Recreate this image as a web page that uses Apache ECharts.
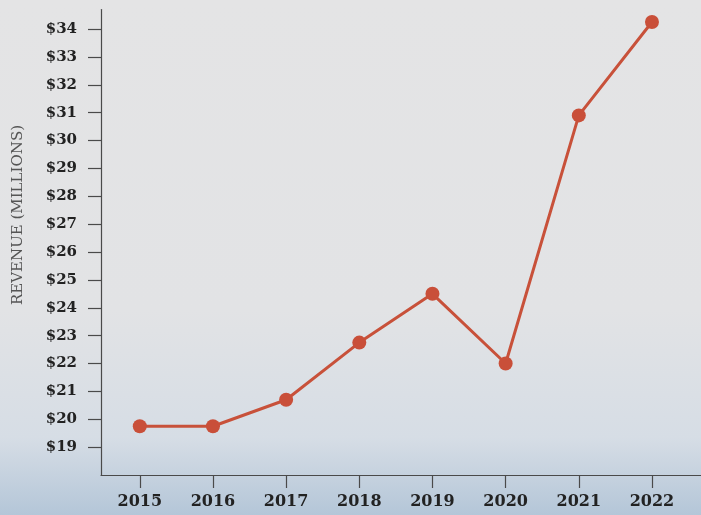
<!DOCTYPE html>
<html>
<head>
<meta charset="utf-8">
<script src="https://cdn.jsdelivr.net/npm/echarts@6/dist/echarts.min.js"></script>
<style>
html,body{margin:0;padding:0;}
#chart{width:701px;height:515px;}
</style>
</head>
<body>
<div id="chart"></div>
<script>
const years = [2015, 2016, 2017, 2018, 2019, 2020, 2021, 2022];
const revenue = [19.75, 19.75, 20.7, 22.75, 24.5, 22.0, 30.9, 34.25];
const yTicks = [19, 20, 21, 22, 23, 24, 25, 26, 27, 28, 29, 30, 31, 32, 33, 34];
const yAxisTitle = 'REVENUE (MILLIONS)';

const chart = echarts.init(document.getElementById('chart'));
const serif = '"DejaVu Serif", "Liberation Serif", serif';
chart.setOption({
  backgroundColor: {
    type: 'linear', x: 0, y: 0, x2: 0, y2: 1,
    colorStops: [
      {offset: 0, color: '#e4e4e5'},
      {offset: 0.6, color: '#e2e3e5'},
      {offset: 0.85, color: '#d6dde5'},
      {offset: 1, color: '#b4c6d8'}
    ]
  },
  graphic: [{
    type: 'text',
    x: 18,
    y: 215,
    rotation: Math.PI / 2,
    style: {
      text: yAxisTitle,
      fill: '#555555',
      font: '15px ' + serif,
      align: 'center',
      verticalAlign: 'middle'
    },
    silent: true
  }],
  grid: {left: 101, right: 0, top: 9.5, bottom: 40},
  xAxis: {
    type: 'value',
    min: 2014.47,
    max: 2022.67,
    splitLine: {show: false},
    axisLine: {show: true, lineStyle: {color: '#4a4a4a', width: 1.2}},
    axisTick: {show: true, length: 13, lineStyle: {color: '#4a4a4a', width: 1.2}, customValues: years},
    axisLabel: {
      customValues: years,
      formatter: v => String(v),
      color: '#222222', fontFamily: serif, fontWeight: 'bold', fontSize: 16, margin: 19
    }
  },
  yAxis: {
    type: 'value',
    min: 18,
    max: 34.7,
    splitLine: {show: false},
    axisLine: {show: true, lineStyle: {color: '#4a4a4a', width: 1.2}},
    axisTick: {show: true, length: 13, lineStyle: {color: '#4a4a4a', width: 1.2}, customValues: yTicks},
    axisLabel: {
      customValues: yTicks,
      formatter: v => '$' + v,
      color: '#222222', fontFamily: serif, fontWeight: 'bold', fontSize: 15, margin: 24
    }
  },
  series: [{
    type: 'line',
    data: years.map((y, i) => [y, revenue[i]]),
    symbol: 'circle',
    symbolSize: 14,
    lineStyle: {color: '#c8513a', width: 3},
    itemStyle: {color: '#c94f39'},
    silent: true,
    animation: false
  }]
});
</script>
</body>
</html>
